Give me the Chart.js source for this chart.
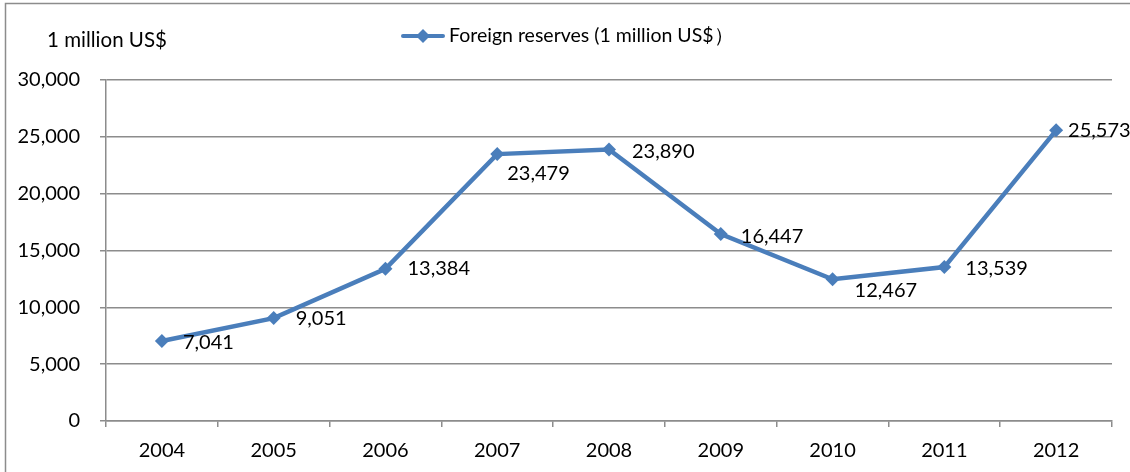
<!DOCTYPE html>
<html lang="en">
<head>
  <meta charset="UTF-8">
  <title>Foreign reserves</title>
  <script src="https://cdn.jsdelivr.net/npm/chart.js"></script>
  <style>
    html, body { margin: 0; padding: 0; background: #fff; }
    #wrap { width: 1130px; height: 472px; }
  </style>
</head>
<body>
  <div id="wrap"><canvas id="reserves" width="1130" height="472"></canvas></div>

  <script>
    const years = ['2004', '2005', '2006', '2007', '2008', '2009', '2010', '2011', '2012'];
    const reserves = [7041, 9051, 13384, 23479, 23890, 16447, 12467, 13539, 25573];
    const seriesName = 'Foreign reserves (1 million US$）';
    const unitTitle = '1 million US$';

    const lineBlue = '#4a7ebb';
    const gridGray = '#8c8c8c';
    const fontFamily = 'Lato, "Open Sans", sans-serif';

    // where each value label sits relative to its point (dx, dy)
    const labelShift = [[21, 2], [22, 0], [22, 0], [10, 19], [23, 2], [20, 2], [22, 11], [21, 1], [12, 0]];

    const frameAndLegend = {
      id: 'frameAndLegend',
      beforeDraw(chart) {
        const ctx = chart.ctx;
        ctx.save();
        ctx.strokeStyle = gridGray;
        ctx.lineWidth = 1.5;
        ctx.strokeRect(5.5, 3.5, 1200, 600);
        ctx.restore();
      },
      afterDraw(chart) {
        const ctx = chart.ctx;
        const ds = chart.data.datasets[0];
        ctx.save();
        ctx.fillStyle = '#000';
        ctx.font = '20.5px ' + fontFamily;
        ctx.textBaseline = 'middle';
        ctx.textAlign = 'left';
        ctx.fillText(unitTitle, 47, 40);

        // legend: line with a diamond marker, then the series name
        const ly = 36;
        ctx.strokeStyle = lineBlue;
        ctx.lineWidth = 4;
        ctx.lineCap = 'round';
        ctx.beginPath();
        ctx.moveTo(403, ly);
        ctx.lineTo(443, ly);
        ctx.stroke();
        ctx.fillStyle = lineBlue;
        ctx.beginPath();
        ctx.moveTo(423, ly - 7);
        ctx.lineTo(430, ly);
        ctx.lineTo(423, ly + 7);
        ctx.lineTo(416, ly);
        ctx.closePath();
        ctx.fill();
        ctx.fillStyle = '#000';
        ctx.font = '19.5px ' + fontFamily;
        ctx.fillText(ds.label, 449, ly);

        // value labels
        const meta = chart.getDatasetMeta(0);
        ctx.font = '20px ' + fontFamily;
        meta.data.forEach((pt, i) => {
          const s = labelShift[i];
          ctx.fillText(ds.data[i].toLocaleString('en-US'), pt.x + s[0], pt.y + s[1]);
        });
        ctx.restore();
      }
    };

    new Chart(document.getElementById('reserves'), {
      type: 'line',
      data: {
        labels: years,
        datasets: [{
          label: seriesName,
          data: reserves,
          borderColor: lineBlue,
          backgroundColor: lineBlue,
          borderWidth: 4.5,
          pointStyle: 'rectRot',
          pointRadius: 7,
          pointHoverRadius: 7,
          pointBackgroundColor: lineBlue,
          pointBorderWidth: 0,
          tension: 0
        }]
      },
      options: {
        responsive: false,
        animation: false,
        events: [],
        layout: { padding: { top: 80, right: 18, left: 0, bottom: 0 } },
        plugins: {
          legend: { display: false },
          title: { display: false },
          tooltip: { enabled: false }
        },
        scales: {
          x: {
            offset: true,
            grid: {
              offset: true,
              drawOnChartArea: false,
              drawTicks: true,
              tickLength: 6,
              color: gridGray,
              lineWidth: 1.5
            },
            border: { color: gridGray, width: 1.5 },
            ticks: { color: '#000', font: { family: fontFamily, size: 20 }, padding: 12, maxRotation: 0 },
            afterFit(scale) { scale.height = 51; }
          },
          y: {
            min: 0,
            max: 30000,
            ticks: {
              stepSize: 5000,
              color: '#000',
              padding: 20,
              font: { family: fontFamily, size: 20 },
              callback: v => v.toLocaleString('en-US')
            },
            grid: { color: gridGray, lineWidth: 1.5, tickLength: 6 },
            border: { color: gridGray, width: 1.5 },
            afterFit(scale) { scale.width = 106; }
          }
        }
      },
      plugins: [frameAndLegend]
    });
  </script>
</body>
</html>
